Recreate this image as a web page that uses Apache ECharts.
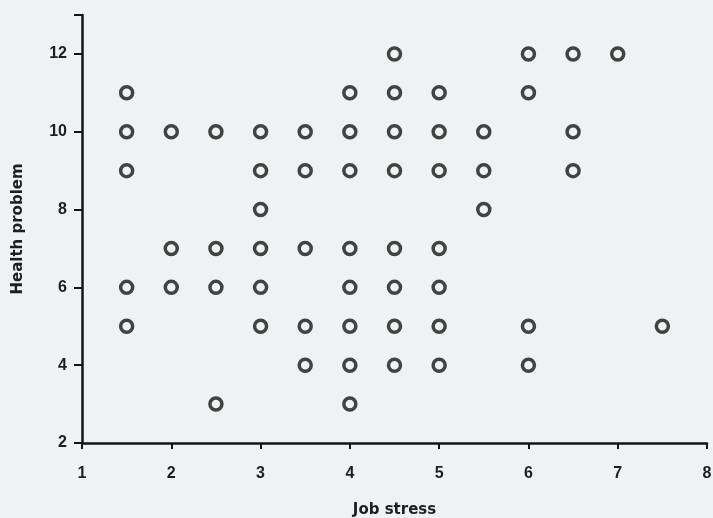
<!DOCTYPE html>
<html>
<head>
<meta charset="utf-8">
<script src="https://cdn.jsdelivr.net/npm/echarts@6/dist/echarts.min.js"></script>
<style>
  html, body { margin: 0; padding: 0; background: #eff2f2; }
  #chart { width: 713px; height: 518px; }
</style>
</head>
<body>
<div id="chart"></div>
<script>
// Job stress (x) and health problem score (y) for each respondent
const jobStress = [
  1.5, 1.5, 1.5, 1.5, 1.5,
  2, 2, 2,
  2.5, 2.5, 2.5, 2.5,
  3, 3, 3, 3, 3, 3,
  3.5, 3.5, 3.5, 3.5, 3.5,
  4, 4, 4, 4, 4, 4, 4, 4,
  4.5, 4.5, 4.5, 4.5, 4.5, 4.5, 4.5, 4.5,
  5, 5, 5, 5, 5, 5, 5,
  5.5, 5.5, 5.5,
  6, 6, 6, 6,
  6.5, 6.5, 6.5,
  7,
  7.5
];
const healthProblem = [
  11, 10, 9, 6, 5,
  10, 7, 6,
  10, 7, 6, 3,
  10, 9, 8, 7, 6, 5,
  10, 9, 7, 5, 4,
  11, 10, 9, 7, 6, 5, 4, 3,
  12, 11, 10, 9, 7, 6, 5, 4,
  11, 10, 9, 7, 6, 5, 4,
  10, 9, 8,
  12, 11, 5, 4,
  12, 10, 9,
  12,
  5
];

const xTicks = [1, 2, 3, 4, 5, 6, 7, 8];
const yTicks = [2, 4, 6, 8, 10, 12];
const xName = 'Job stress';
const yName = 'Health problem';

const points = jobStress.map((x, i) => [x, healthProblem[i]]);

const ink = '#151515';
const labelFont = {
  color: '#1e1e1e',
  fontFamily: 'Liberation Sans, Arial, sans-serif',
  fontWeight: 'bold',
  fontSize: 16
};
const nameFont = {
  color: '#1e1e1e',
  fontFamily: 'DejaVu Sans, sans-serif',
  fontWeight: 'bold',
  fontSize: 15
};

const chart = echarts.init(document.getElementById('chart'), null, { renderer: 'canvas' });
chart.setOption({
  backgroundColor: '#eff2f2',
  animation: false,
  grid: {
    left: 82, right: 6, top: 15, bottom: 75,
    containLabel: false,
    outerBoundsMode: 'none'
  },
  xAxis: {
    type: 'value',
    min: xTicks[0],
    max: xTicks[xTicks.length - 1],
    interval: 1,
    name: xName,
    nameLocation: 'middle',
    nameGap: 60,
    nameTextStyle: nameFont,
    axisLine: { show: true, lineStyle: { color: ink, width: 2.5 } },
    axisTick: { show: true, length: 6, lineStyle: { color: ink, width: 2 } },
    axisLabel: Object.assign({ margin: 23 }, labelFont),
    splitLine: { show: false }
  },
  yAxis: {
    type: 'value',
    min: yTicks[0],
    max: 13,
    interval: 2,
    name: yName,
    nameLocation: 'middle',
    nameGap: 56,
    nameTextStyle: nameFont,
    axisLine: { show: true, lineStyle: { color: ink, width: 2.5 } },
    axisTick: { show: true, length: 8, lineStyle: { color: ink, width: 2 } },
    axisLabel: Object.assign({
      margin: 15,
      formatter: v => (yTicks.indexOf(v) >= 0 ? String(v) : '')
    }, labelFont),
    splitLine: { show: false }
  },
  series: [{
    type: 'scatter',
    data: points,
    symbol: 'circle',
    symbolSize: 12,
    itemStyle: {
      color: 'rgba(0,0,0,0)',
      borderColor: ink,
      borderWidth: 3.5
    }
  }]
});
</script>
</body>
</html>
